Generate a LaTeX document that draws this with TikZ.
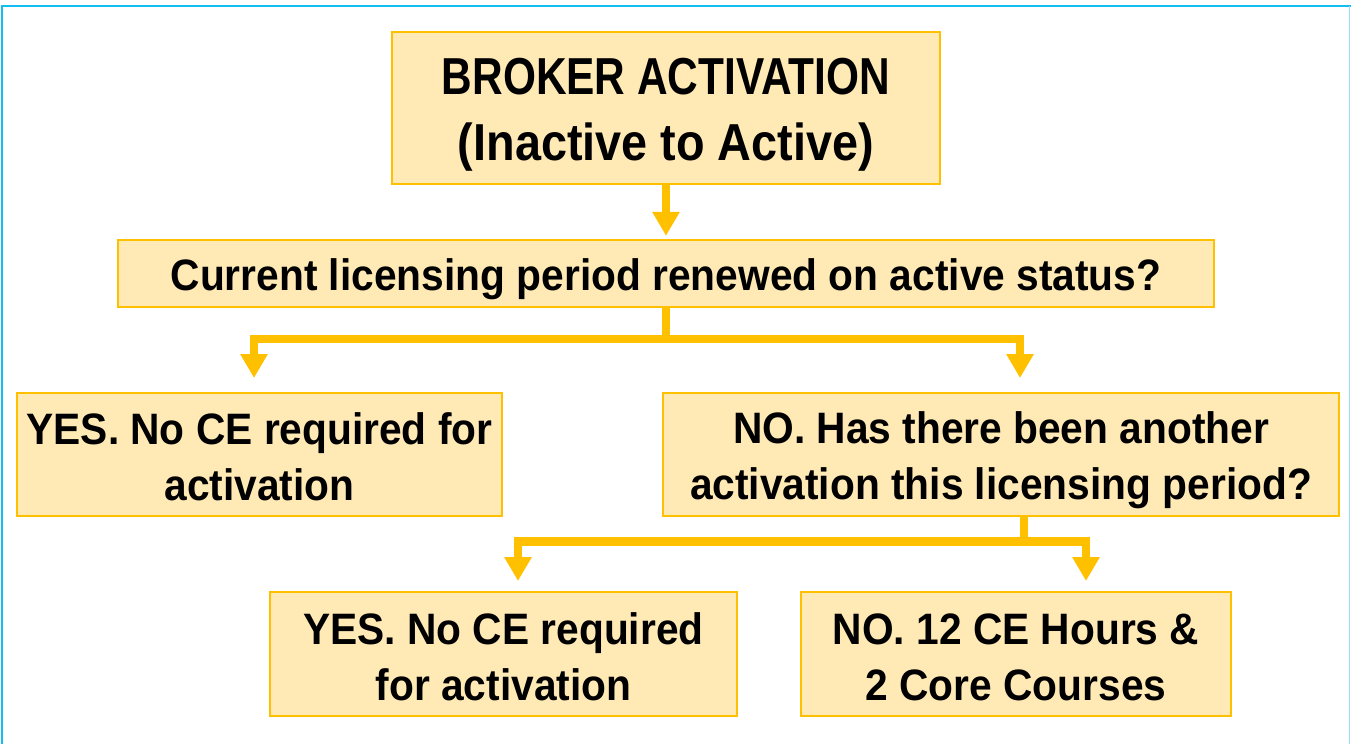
\documentclass[tikz,border=0pt]{standalone}
\usepackage{fontspec}
\usetikzlibrary{arrows.meta}
\newfontfamily\bodyfont[FakeStretch=0.925]{Liberation Sans}
\newfontfamily\headfonta[FakeStretch=0.815]{Liberation Sans}
\newfontfamily\headfontb[FakeStretch=0.90]{Liberation Sans}
% struts that fix the first baseline and last depth of each box text
\newcommand{\boxtopstrut}{\rule{0pt}{43pt}}
\newcommand{\boxbotstrut}{\rule[-7pt]{0pt}{7pt}}
\newcommand{\headtopstrut}{\rule{0pt}{50pt}}
\newcommand{\headbotstrut}{\rule[-8pt]{0pt}{8pt}}
\definecolor{gold}{HTML}{FFC000}
\definecolor{paleyellow}{HTML}{FFEAB6}
\definecolor{framecyan}{HTML}{12BEF0}
\definecolor{framelight}{HTML}{9ADCF6}
\tikzset{
  box/.style={draw=gold, line width=2.4pt, fill=paleyellow, inner sep=0pt,
    align=center, text=black, font=\bodyfont\bfseries\fontsize{44}{56}\selectfont},
  flow/.style={draw=gold, line width=8.5pt, line join=miter},
  flowtip/.style={flow, -{Triangle[width=26pt,length=24pt]}},
  flowtips/.style={flow, {Triangle[width=26pt,length=24pt]}-{Triangle[width=26pt,length=24pt]}}
}
\begin{document}
\begin{tikzpicture}[x=1pt,y=-1pt]
  % page frame
  \useasboundingbox (0,0) rectangle (1351,744);
  \fill[white] (0,0) rectangle (1351,744);
  \draw[framecyan, line width=2.4pt] (2,744) -- (2,6) -- (1351,6);
  \draw[framelight, line width=1.2pt] (1349.8,6) -- (1349.8,744);

  % boxes
  \node[box, minimum width=548pt, minimum height=152pt,
        font=\bfseries\fontsize{52}{66}\selectfont]
        (title) at (666,108)
        {\headtopstrut{\headfonta\bfseries BROKER ACTIVATION}\\
         {\headfontb\bfseries (Inactive to Active)}\headbotstrut};
  \node[box, minimum width=1096pt, minimum height=67pt]
        (q1) at (666,273.5)
        {\boxtopstrut Current licensing period renewed on active status?\boxbotstrut};
  \node[box, minimum width=485pt, minimum height=123pt]
        (yes1) at (259.5,454.5)
        {\boxtopstrut YES. No CE required for\\activation\boxbotstrut};
  \node[box, minimum width=676pt, minimum height=123pt]
        (q2) at (1001,454.5)
        {\boxtopstrut NO. Has there been another\\activation this licensing period?\boxbotstrut};
  \node[box, minimum width=467pt, minimum height=124pt]
        (yes2) at (503.5,654)
        {\boxtopstrut YES. No CE required\\for activation\boxbotstrut};
  \node[box, minimum width=430pt, minimum height=124pt]
        (no2) at (1016,654)
        {\boxtopstrut NO. 12 CE Hours \&\\2 Core Courses\boxbotstrut};

  % connector points
  \coordinate (j1) at (666,343);
  \coordinate (l1) at (254,339);
  \coordinate (r1) at (1020,339);
  \coordinate (t1l) at (254,378);
  \coordinate (t1r) at (1020,378);
  \coordinate (j2) at (1024,545.5);
  \coordinate (l2) at (518,541.5);
  \coordinate (r2) at (1086,541.5);
  \coordinate (t2l) at (518,581);
  \coordinate (t2r) at (1086,581);

  % connectors
  \draw[flowtip, shorten >=3pt] (title.south) -- (q1.north);
  \draw[flow] (q1.south) -- (j1);
  \draw[flowtips] (t1l) -- (l1) -- (r1) -- (t1r);
  \draw[flow] (q2.south -| j2) -- (j2);
  \draw[flowtips] (t2l) -- (l2) -- (r2) -- (t2r);
\end{tikzpicture}
\end{document}
